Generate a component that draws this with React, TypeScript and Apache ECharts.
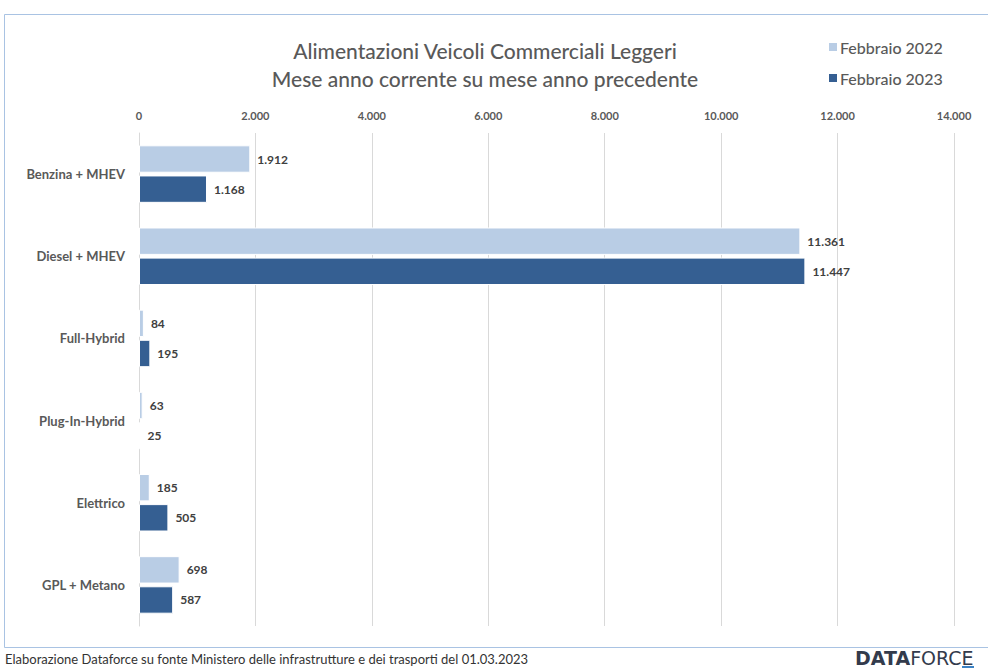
import React, { useEffect, useRef } from "react";
import * as echarts from "echarts";

const categories = ["Benzina + MHEV", "Diesel + MHEV", "Full-Hybrid", "Plug-In-Hybrid", "Elettrico", "GPL + Metano"];
const feb2022 = [1912, 11361, 84, 63, 185, 698];
const feb2023 = [1168, 11447, 195, 25, 505, 587];
const seriesNames = ["Febbraio 2022", "Febbraio 2023"];

const fmt = (v: number) => String(v).replace(/\B(?=(\d{3})+(?!\d))/g, ".");

export default function App() {
  const ref = useRef<HTMLDivElement>(null);
  useEffect(() => {
    document.body.style.margin = "0";
    const chart = echarts.init(ref.current!, null, { renderer: "svg" });
    const font = "Lato, 'Open Sans', sans-serif";
    const labelStyle = {
      show: true,
      position: "right" as const,
      distance: 7,
      color: "#404040",
      fontWeight: "bold" as const,
      fontSize: 12,
      fontFamily: font,
      formatter: (p: any) => fmt(p.value),
    };
    chart.setOption({
      animation: false,
      backgroundColor: "#fff",
      textStyle: { fontFamily: font },
      title: {
        text: "Alimentazioni Veicoli Commerciali Leggeri\nMese anno corrente su mese anno precedente",
        left: 480,
        textAlign: "center",
        top: 31,
        textStyle: { fontSize: 21, fontWeight: 500, color: "#595959", lineHeight: 28, fontFamily: font },
      },
      legend: {
        orient: "vertical",
        left: 822,
        top: 34,
        itemWidth: 10,
        itemHeight: 10,
        itemGap: 15,
        icon: "rect",
        textStyle: { fontSize: 16, fontWeight: 500, color: "#595959", fontFamily: font, padding: [0, 0, 0, -3] },
        data: seriesNames,
      },
      grid: { left: 139, right: 34, top: 133, bottom: 42, containLabel: false },
      xAxis: {
        type: "value",
        position: "top",
        min: 0,
        max: 14000,
        interval: 2000,
        axisLine: { show: false },
        axisTick: { show: false },
        splitLine: { show: true, lineStyle: { color: "#d9d9d9", width: 1 } },
        axisLabel: {
          color: "#595959",
          fontWeight: "bold",
          fontSize: 11,
          fontFamily: font,
          margin: 12,
          formatter: (v: number) => fmt(v),
        },
      },
      yAxis: {
        type: "category",
        inverse: true,
        data: categories,
        axisLine: { show: true, lineStyle: { color: "#d9d9d9" } },
        axisTick: { show: false },
        axisLabel: { color: "#595959", fontWeight: "bold", fontSize: 13, fontFamily: font, margin: 14 },
      },
      series: [
        {
          name: seriesNames[0],
          type: "bar",
          data: feb2022,
          barGap: "10%",
          barCategoryGap: "30%",
          itemStyle: { color: "#b9cde5", borderColor: "#fff", borderWidth: 1 },
          label: labelStyle,
        },
        {
          name: seriesNames[1],
          type: "bar",
          data: feb2023,
          itemStyle: { color: "#355f92", borderColor: "#fff", borderWidth: 1 },
          label: labelStyle,
        },
      ],
      graphic: [
        {
          type: "rect",
          shape: { x: 4.5, y: 14.5, width: 1000, height: 633 },
          style: { fill: "none", stroke: "#a9c3e3", lineWidth: 1 },
          silent: true,
        },
        {
          type: "text",
          left: 5,
          top: 652,
          style: {
            text: "Elaborazione Dataforce su fonte Ministero delle infrastrutture e dei trasporti del 01.03.2023",
            fill: "#333",
            fontSize: 13,
            fontFamily: font,
          },
        },
        {
          type: "text",
          left: 855,
          top: 648,
          style: {
            text: "{a|DATA}{b|FORCE}",
            rich: {
              a: { fontSize: 19, fontWeight: "bold", fill: "#333b4c", fontFamily: "'DejaVu Sans', sans-serif" },
              b: { fontSize: 19, fontWeight: "normal", fill: "#333b4c", fontFamily: "'DejaVu Sans', sans-serif" },
            },
          },
        },
        {
          type: "rect",
          shape: { x: 962, y: 666, width: 12, height: 2 },
          style: { fill: "#3b82c4" },
        },
      ],
    });
    return () => chart.dispose();
  }, []);
  return <div ref={ref} style={{ width: 988, height: 668 }} />;
}
